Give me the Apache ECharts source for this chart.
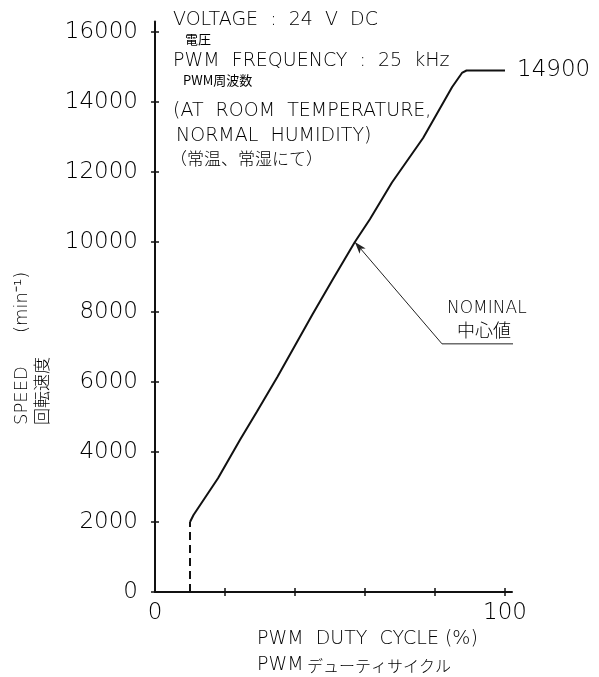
<!DOCTYPE html>
<html>
<head>
<meta charset="utf-8">
<script src="https://cdn.jsdelivr.net/npm/echarts@6/dist/echarts.min.js"></script>
<style>
html,body{margin:0;padding:0;background:#fff;}
#chart{width:599px;height:677px;}
</style>
</head>
<body>
<div id="chart"></div>
<script>
// ---- data ----
const dutyCycle = [10, 11, 18, 24.3, 29.1, 35, 45.1, 50.9, 57.1, 61.4, 67.7, 76.6, 84.9, 87.7, 89, 100];
const speed     = [2000, 2200, 3250, 4350, 5150, 6150, 7950, 8950, 10000, 10650, 11700, 12970, 14430, 14830, 14900, 14900];
const dashedX = [10, 10];
const dashedY = [0, 2000];
const yTicks = [0, 2000, 4000, 6000, 8000, 10000, 12000, 14000, 16000];
const xTicks = [20, 40, 60, 80, 100];
const xLabels = [0, 100];
const nominalPoint = [57.1, 10000];
const leaderElbow = [82, 7090];
const leaderEnd = [108.6, 7090];
const maxLabel = '14900';

const FONT = 'DejaVu Sans';
const TXT = '#000';
const LINE = '#111';

const chart = echarts.init(document.getElementById('chart'), null, {renderer: 'canvas'});

const yAxisBase = {
  type: 'value', min: 0, max: 16300, position: 'left',
  splitLine: {show: false},
  axisLine: {show: true, lineStyle: {color: LINE, width: 2}},
};
const xAxisBase = {
  type: 'value', min: 0, max: 102, position: 'bottom',
  splitLine: {show: false},
  axisLine: {show: true, lineStyle: {color: LINE, width: 2}},
};

chart.setOption({
  animation: false,
  backgroundColor: '#fff',
  grid: {left: 155, top: 21.5, width: 357, height: 570.5, containLabel: false},
  xAxis: [
    Object.assign({}, xAxisBase, {
      axisTick: {show: true, inside: false, length: 4, customValues: xTicks, lineStyle: {color: LINE, width: 1.5}},
      axisLabel: {show: true, customValues: xLabels, margin: 10, formatter: v => String(v), fontFamily: FONT, fontWeight: 200, fontSize: 23, color: TXT}
    }),
    Object.assign({}, xAxisBase, {
      axisLine: {show: false},
      axisTick: {show: true, inside: true, length: 4, customValues: xTicks, lineStyle: {color: LINE, width: 1.5}},
      axisLabel: {show: false}
    })
  ],
  yAxis: [
    Object.assign({}, yAxisBase, {
      axisTick: {show: true, inside: false, length: 4, customValues: yTicks, lineStyle: {color: LINE, width: 1.5}},
      axisLabel: {show: true, customValues: yTicks, margin: 17, formatter: v => String(v), fontFamily: FONT, fontWeight: 200, fontSize: 23, color: TXT}
    }),
    Object.assign({}, yAxisBase, {
      axisLine: {show: false},
      axisTick: {show: true, inside: true, length: 4, customValues: yTicks, lineStyle: {color: LINE, width: 1.5}},
      axisLabel: {show: false}
    })
  ],
  series: [
    {
      type: 'line',
      data: dutyCycle.map((x, i) => [x, speed[i]]),
      showSymbol: false,
      symbol: 'none',
      lineStyle: {color: LINE, width: 2},
      clip: false,
      endLabel: {
        show: true, formatter: maxLabel, distance: 12,
        fontFamily: FONT, fontWeight: 200, fontSize: 23, color: TXT
      },
      markLine: {
        silent: true,
        animation: false,
        label: {show: false},
        lineStyle: {color: '#222', width: 1, type: 'solid'},
        data: [
          [{coord: leaderElbow, symbol: 'none'}, {coord: nominalPoint, symbol: 'arrow', symbolSize: [6, 12]}]
        ]
      }
    },
    {
      type: 'line',
      data: dashedX.map((x, i) => [x, dashedY[i]]),
      symbol: 'none',
      lineStyle: {color: LINE, width: 2, type: [8, 5]}
    },
    {
      type: 'line',
      data: [leaderElbow, leaderEnd],
      symbol: 'none',
      clip: false,
      lineStyle: {color: '#222', width: 1}
    }
  ],
  graphic: [
    {type: 'text', left: 173, top: 11, style: {text: 'VOLTAGE  :  24  V  DC', font: '200 19px "DejaVu Sans"', fill: TXT}},
    {type: 'text', left: 185, top: 33, style: {text: '電圧', font: '13px "Noto Sans CJK JP"', fill: TXT}},
    {type: 'text', left: 173, top: 52, style: {text: 'PWM  FREQUENCY  :  25  kHz', font: '200 19px "DejaVu Sans"', fill: TXT}},
    {type: 'text', left: 183, top: 74, style: {text: 'PWM周波数', font: '13px "Noto Sans CJK JP"', fill: TXT}},
    {type: 'text', left: 173, top: 102, style: {text: '(AT  ROOM  TEMPERATURE,', font: '200 19px "DejaVu Sans"', fill: TXT}},
    {type: 'text', left: 176, top: 127, style: {text: 'NORMAL  HUMIDITY)', font: '200 19px "DejaVu Sans"', fill: TXT}},
    {type: 'text', left: 170, top: 150, style: {text: '（常温、常湿にて）', font: '300 17px "Noto Sans CJK JP"', fill: TXT}},
    {type: 'text', left: 447, top: 300, style: {text: 'NOMINAL', font: '200 17px "DejaVu Sans"', fill: TXT}},
    {type: 'text', left: 457, top: 321, style: {text: '中心値', font: '300 18px "Noto Sans CJK JP"', fill: TXT}},
    {type: 'text', x: 22, y: 425, rotation: Math.PI / 2, style: {text: 'SPEED', font: '200 18px "DejaVu Sans"', fill: TXT, textAlign: 'left', textVerticalAlign: 'middle'}},
    {type: 'text', x: 22, y: 333, rotation: Math.PI / 2, style: {text: '(min⁻¹)', font: '200 18px "DejaVu Sans"', fill: TXT, textAlign: 'left', textVerticalAlign: 'middle'}},
    {type: 'text', x: 42, y: 425, rotation: Math.PI / 2, style: {text: '回転速度', font: '300 17px "Noto Sans CJK JP"', fill: TXT, textAlign: 'left', textVerticalAlign: 'middle'}},
    {type: 'text', left: 257, top: 630, style: {text: 'PWM  DUTY  CYCLE (%)', font: '200 19px "DejaVu Sans"', fill: TXT}},
    {type: 'text', left: 257, top: 656, style: {
      text: '{a|PWM} {b|デューティサイクル}',
      rich: {
        a: {fontFamily: FONT, fontWeight: 200, fontSize: 19, fill: TXT},
        b: {fontFamily: 'Noto Sans CJK JP', fontWeight: 300, fontSize: 16, fill: TXT}
      }
    }}
  ]
});
</script>
</body>
</html>
